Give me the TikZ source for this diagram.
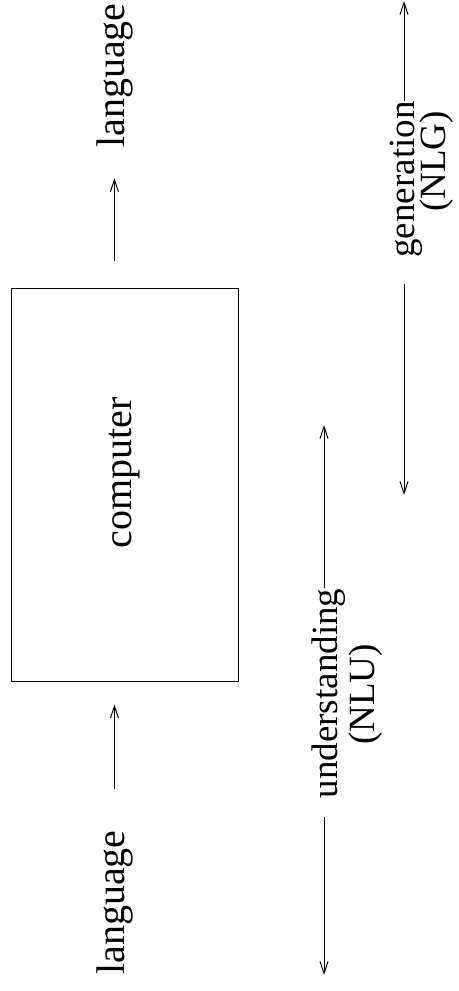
\documentclass[tikz,border=0pt]{standalone}
\usepackage{fontspec}
\setmainfont{Liberation Serif}
\usetikzlibrary{arrows.meta}

\begin{document}
\begin{tikzpicture}[x=0.5pt, y=0.5pt,
        arr/.style={-{Straight Barb[length=6pt,width=4pt]}, line width=0.5pt},
        big/.style={rotate=90, inner sep=0pt, font=\fontsize{20}{24}\selectfont},
        lbl/.style={rotate=90, inner sep=0pt, font=\fontsize{18.5}{22}\selectfont}]
            \useasboundingbox (0,0) rectangle (459,991);
            \node[big, anchor=base] (lin) at (124,88.5) {language};
            \node[big, anchor=base] (lout) at (124,915.5) {language};
            \node[big, draw, line width=0.5pt, minimum width=196.5pt, minimum height=113.5pt] (box) at (124.5,505.5) {\hspace*{13pt}computer};
            \draw[arr, shorten <=20.5pt, shorten >=11pt] (lin.east) -- (lin.east |- box.west);
            \draw[arr, shorten <=13.5pt, shorten >=15pt] (lout.west |- box.east) -- (lout.west);
            \coordinate (nlul) at (324,16);
            \coordinate (nlur) at (324,566);
            \node[lbl, anchor=base] (und) at (337,297.5) {understanding};
            \node[lbl, anchor=base] (nlu) at (374,296.5) {(NLU)};
            \draw[arr, shorten <=9pt] (nlul |- und.west) -- (nlul);
            \draw[arr] (nlul |- und.east) -- (nlur);
            \coordinate (nlgl) at (404,496);
            \coordinate (nlgr) at (404,990);
            \node[lbl, anchor=base] (gen) at (414,811.5) {generation};
            \node[lbl, anchor=base] (nlg) at (445,829.5) {(NLG)};
            \draw[arr, shorten <=13pt] (nlgl |- gen.west) -- (nlgl);
            \draw[arr] (nlgl |- gen.east) -- (nlgr);
\end{tikzpicture}
\end{document}
